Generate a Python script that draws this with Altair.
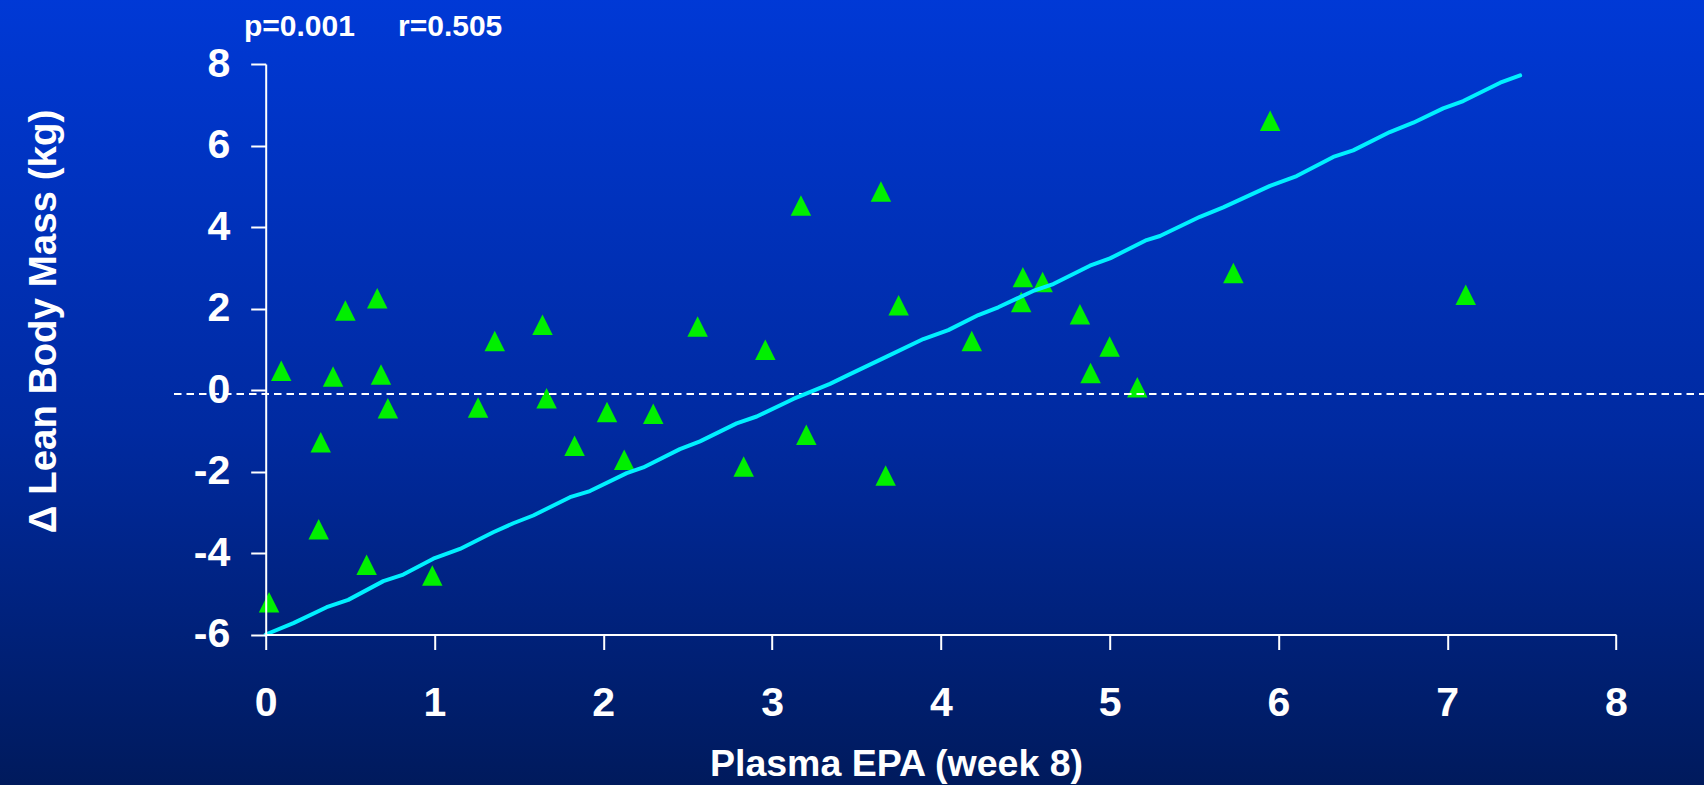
import altair as alt
import pandas as pd

# Scatter data (Plasma EPA week 8 vs change in lean body mass)
epa = [0.02, 0.092, 0.326, 0.314, 0.399, 0.472, 0.598, 0.661, 0.683, 0.724,
       0.987, 1.258, 1.357, 1.64, 1.664, 1.83, 2.022, 2.124, 2.296, 2.559,
       2.832, 2.96, 3.171, 3.203, 3.645, 3.673, 3.75, 4.183, 4.486, 4.476,
       4.603, 4.824, 4.887, 5.0, 5.164, 5.733, 5.951, 7.11]
lbm = [-5.21, 0.47, -1.28, -3.42, 0.33, 1.95, -4.29, 2.25, 0.38, -0.45,
       -4.55, -0.43, 1.20, 1.60, -0.20, -1.37, -0.54, -1.71, -0.58, 1.56,
       -1.88, 0.99, 4.53, -1.10, 4.87, -2.10, 2.08, 1.20, 2.77, 2.16,
       2.65, 1.86, 0.42, 1.07, 0.07, 2.87, 6.61, 2.34]

# Fitted line as drawn
fit_x = [0.0, 0.164, 0.361, 0.489, 0.697, 0.815, 0.993, 1.151, 1.348, 1.467,
         1.585, 1.803, 1.921, 2.139, 2.237, 2.454, 2.573, 2.79, 2.909, 3.126,
         3.343, 3.462, 3.679, 3.896, 4.044, 4.222, 4.34, 4.547, 4.666, 4.883,
         5.002, 5.219, 5.298, 5.535, 5.673, 5.95, 6.108, 6.325, 6.443, 6.66,
         6.799, 6.976, 7.095, 7.314, 7.432]
fit_y = [-6.0, -5.72, -5.33, -5.15, -4.69, -4.53, -4.14, -3.9, -3.49, -3.27,
         -3.08, -2.63, -2.48, -2.04, -1.90, -1.45, -1.26, -0.82, -0.65, -0.22,
         0.15, 0.39, 0.82, 1.25, 1.47, 1.84, 2.03, 2.43, 2.6, 3.05,
         3.23, 3.68, 3.78, 4.25, 4.48, 5.01, 5.25, 5.72, 5.88, 6.33,
         6.56, 6.91, 7.09, 7.54, 7.72]

ref_y = [-0.1]
x_ticks = [0, 1, 2, 3, 4, 5, 6, 7, 8]
y_ticks = [-6, -4, -2, 0, 2, 4, 6, 8]

# annotations anchored at the top-left corner of the axes (x=0, y=8)
p_text = ["p=0.001"]
r_text = ["r=0.505"]
anchor_x = [0]
anchor_y = [8]
x_title = "Plasma EPA (week 8)"
y_title = "\u0394 Lean Body Mass (kg)"

FONT = "Liberation Sans"
LEFT, TOP, RIGHT, BOTTOM = 265.7, 64, 88, 150.5
W = 1704 - LEFT - RIGHT
H = 785 - TOP - BOTTOM

pts = pd.DataFrame({"x": epa, "y": lbm})
fit = pd.DataFrame({"x": fit_x, "y": fit_y})
ref = pd.DataFrame({"y": ref_y})
bg_df = pd.DataFrame({"a": [0]})
p_df = pd.DataFrame({"x": anchor_x, "y": anchor_y, "t": p_text})
r_df = pd.DataFrame({"x": anchor_x, "y": anchor_y, "t": r_text})

xscale = alt.Scale(domain=[0, 8], nice=False, zero=False)
yscale = alt.Scale(domain=[-6, 8], nice=False, zero=False)

xaxis = alt.Axis(
    values=x_ticks, title=x_title, titleX=896 - LEFT, titleY=140.5,
    titleAlign="center", titleBaseline="alphabetic", titleFontSize=37.5,
    labelPadding=34, labelFlush=False, labelExpr="'' + datum.value", zindex=2)
yaxis = alt.Axis(
    values=y_ticks, title=y_title, titleX=55 - LEFT, titleY=321 - TOP,
    titleAngle=270, titleAlign="center", titleBaseline="alphabetic",
    titleFontSize=38.5, labelPadding=21, labelFlush=False,
    labelExpr="'' + datum.value", zindex=2)

X = alt.X("x:Q", scale=xscale, axis=xaxis)
Y = alt.Y("y:Q", scale=yscale, axis=yaxis)

bg = alt.Chart(bg_df).mark_rect(
    color=alt.Gradient(
        gradient="linear",
        stops=[alt.GradientStop(color="#0039d6", offset=0),
               alt.GradientStop(color="#002aa0", offset=0.55),
               alt.GradientStop(color="#001a5c", offset=1)],
        x1=0, x2=0, y1=0, y2=1,
    )
).encode(
    x=alt.value(-LEFT - 2), x2=alt.value(W + RIGHT + 2),
    y=alt.value(-TOP - 2), y2=alt.value(H + BOTTOM + 2),
)

points = alt.Chart(pts).mark_point(
    shape="M0,-1L1,1L-1,1Z", filled=True, size=420, color="#00f000", opacity=1
).encode(x=X, y=Y)

rule = alt.Chart(ref).mark_rule(
    color="white", strokeWidth=2, strokeDash=[7.5, 5]
).encode(
    y=Y,
    x=alt.value(174 - LEFT), x2=alt.value(W + RIGHT),
)

line = alt.Chart(fit).mark_line(
    color="#00f0ff", strokeWidth=4, strokeCap="round", strokeJoin="round"
).encode(x=X, y=Y)

text_style = dict(align="left", baseline="alphabetic", dy=-28, fontSize=30,
                  font=FONT, fontWeight="bold", color="white")
p_mark = alt.Chart(p_df).mark_text(dx=244 - LEFT, **text_style).encode(
    x=X, y=Y, text="t:N")
r_mark = alt.Chart(r_df).mark_text(dx=398 - LEFT, **text_style).encode(
    x=X, y=Y, text="t:N")

chart = alt.layer(bg, points, rule, line, p_mark, r_mark).properties(
    width=W, height=H,
    autosize=alt.AutoSizeParams(type="none"),
    padding={"left": LEFT, "top": TOP, "right": RIGHT, "bottom": BOTTOM},
    background="#001a5c",
).configure_view(stroke=None).configure_axis(
    grid=False,
    domainColor="white", domainWidth=2,
    tickColor="white", tickWidth=2, tickSize=15,
    labelColor="white", labelFont=FONT, labelFontWeight="bold", labelFontSize=41,
    titleColor="white", titleFont=FONT, titleFontWeight="bold",
)

chart.save("out.html", embed_options={"renderer": "svg", "actions": False})
